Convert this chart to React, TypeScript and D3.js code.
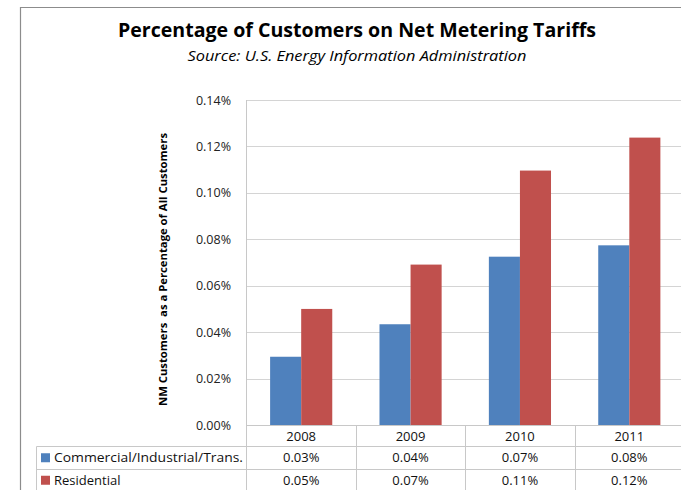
import React from "react";
import * as d3 from "d3";

const years = ["2008", "2009", "2010", "2011"];
const seriesNames = ["Commercial/Industrial/Trans.", "Residential"];
const commercial = [0.0294, 0.0434, 0.0725, 0.0774];
const residential = [0.05, 0.0691, 0.1096, 0.1238];
const yTicks = [0, 0.02, 0.04, 0.06, 0.08, 0.1, 0.12, 0.14];
const colors = ["#4f81bd", "#c0504d"];

const W = 681;
const H = 490;
const FONT = "'Open Sans', 'Noto Sans', sans-serif";

export default function App() {
  const plotLeft = 246.5;
  const plotRight = 684;
  const plotTop = 100;
  const plotBottom = 425;
  const row0 = 446.5;
  const row1 = 469;
  const row2 = 491.5;
  const tableLeft = 36.5;

  const x = d3.scaleBand<string>().domain(years).range([plotLeft, plotRight]).paddingInner(0).paddingOuter(0);
  const xSub = d3.scaleBand<string>().domain(seriesNames).range([0, x.bandwidth()]).paddingInner(0).paddingOuter(0.76);
  const y = d3.scaleLinear().domain([0, 0.14]).range([plotBottom, plotTop]);
  const series = [commercial, residential];
  const fmtTick = (v: number) => v.toFixed(2) + "%";
  const fmtVal = (v: number) => v.toFixed(2) + "%";

  const gridColor = "#d4d4d4";
  const tableColor = "#c8c8c8";

  return (
    <svg width={W} height={H} style={{ position: "absolute", left: 0, top: 0, background: "#fff" }} fontFamily={FONT}>
      <rect x={0} y={0} width={W} height={H} fill="#fff" />
      {/* outer frame */}
      <path d={`M20.5,${H + 2} V7.5 H${W + 2}`} fill="none" stroke="#8c8c8c" strokeWidth={1.2} />

      {/* title */}
      <text x={357} y={37} textAnchor="middle" fontSize={20} fontWeight="bold" fill="#000" textLength={478} lengthAdjust="spacingAndGlyphs">
        Percentage of Customers on Net Metering Tariffs
      </text>
      <text x={357} y={61} textAnchor="middle" fontSize={15} fontStyle="italic" fill="#000" textLength={339} lengthAdjust="spacingAndGlyphs">
        Source: U.S. Energy Information Administration
      </text>

      {/* gridlines */}
      {yTicks.map((t) => (
        <line key={"g" + t} x1={plotLeft} x2={plotRight} y1={Math.round(y(t)) + 0.5} y2={Math.round(y(t)) + 0.5} stroke={gridColor} strokeWidth={1} />
      ))}
      {/* y tick labels */}
      {yTicks.map((t) => (
        <text key={"t" + t} x={231} y={y(t) + 4.5} textAnchor="end" fontSize={12.5} fill="#222">
          {fmtTick(t)}
        </text>
      ))}

      {/* y axis label */}
      <text
        transform={`translate(167,${(133 + 406) / 2}) rotate(-90)`}
        textAnchor="middle"
        fontSize={11}
        fontWeight="bold"
        fill="#000"
        textLength={273}
        lengthAdjust="spacingAndGlyphs"
        style={{ whiteSpace: "pre" }}
      >
        {"NM Customers  as a Percentage of All Customers"}
      </text>

      {/* bars */}
      {years.map((yr, i) => (
        <g key={yr} transform={`translate(${x(yr)},0)`}>
          {series.map((s, j) => (
            <rect
              key={j}
              x={xSub(seriesNames[j])}
              y={y(s[i])}
              width={xSub.bandwidth()}
              height={plotBottom - y(s[i])}
              fill={colors[j]}
            />
          ))}
        </g>
      ))}

      {/* axis and table lines */}
      <line x1={plotLeft} x2={W + 5} y1={plotBottom + 0.5} y2={plotBottom + 0.5} stroke={tableColor} />
      <line x1={plotLeft} x2={plotLeft} y1={plotTop} y2={H + 2} stroke={tableColor} />
      {years.slice(1).map((yr) => (
        <line key={"v" + yr} x1={Math.round(x(yr)!) + 0.5} x2={Math.round(x(yr)!) + 0.5} y1={plotBottom} y2={H + 2} stroke={tableColor} />
      ))}
      <line x1={tableLeft} x2={tableLeft} y1={row0} y2={H + 2} stroke={tableColor} />
      <line x1={tableLeft} x2={W + 5} y1={row0} y2={row0} stroke={tableColor} />
      <line x1={tableLeft} x2={W + 5} y1={row1 + 0.5} y2={row1 + 0.5} stroke={tableColor} />
      <line x1={tableLeft} x2={W + 5} y1={row2} y2={row2} stroke={tableColor} />

      {/* category labels */}
      {years.map((yr) => (
        <text key={"c" + yr} x={x(yr)! + x.bandwidth() / 2} y={441} textAnchor="middle" fontSize={13} fill="#111">
          {yr}
        </text>
      ))}

      {/* table rows */}
      {series.map((s, j) => {
        const top = j === 0 ? row0 : row1;
        const bottom = j === 0 ? row1 : row2;
        const cy = (top + bottom) / 2;
        return (
          <g key={"r" + j}>
            <rect x={41} y={cy - 4.5} width={9} height={9} fill={colors[j]} />
            <text x={54} y={cy + 4.5} fontSize={13} fill="#111" textLength={j === 0 ? 189 : undefined} lengthAdjust="spacingAndGlyphs">
              {seriesNames[j]}
            </text>
            {years.map((yr, i) => (
              <text key={yr} x={x(yr)! + x.bandwidth() / 2} y={cy + 4.5} textAnchor="middle" fontSize={13} fill="#111">
                {fmtVal(s[i])}
              </text>
            ))}
          </g>
        );
      })}
    </svg>
  );
}
